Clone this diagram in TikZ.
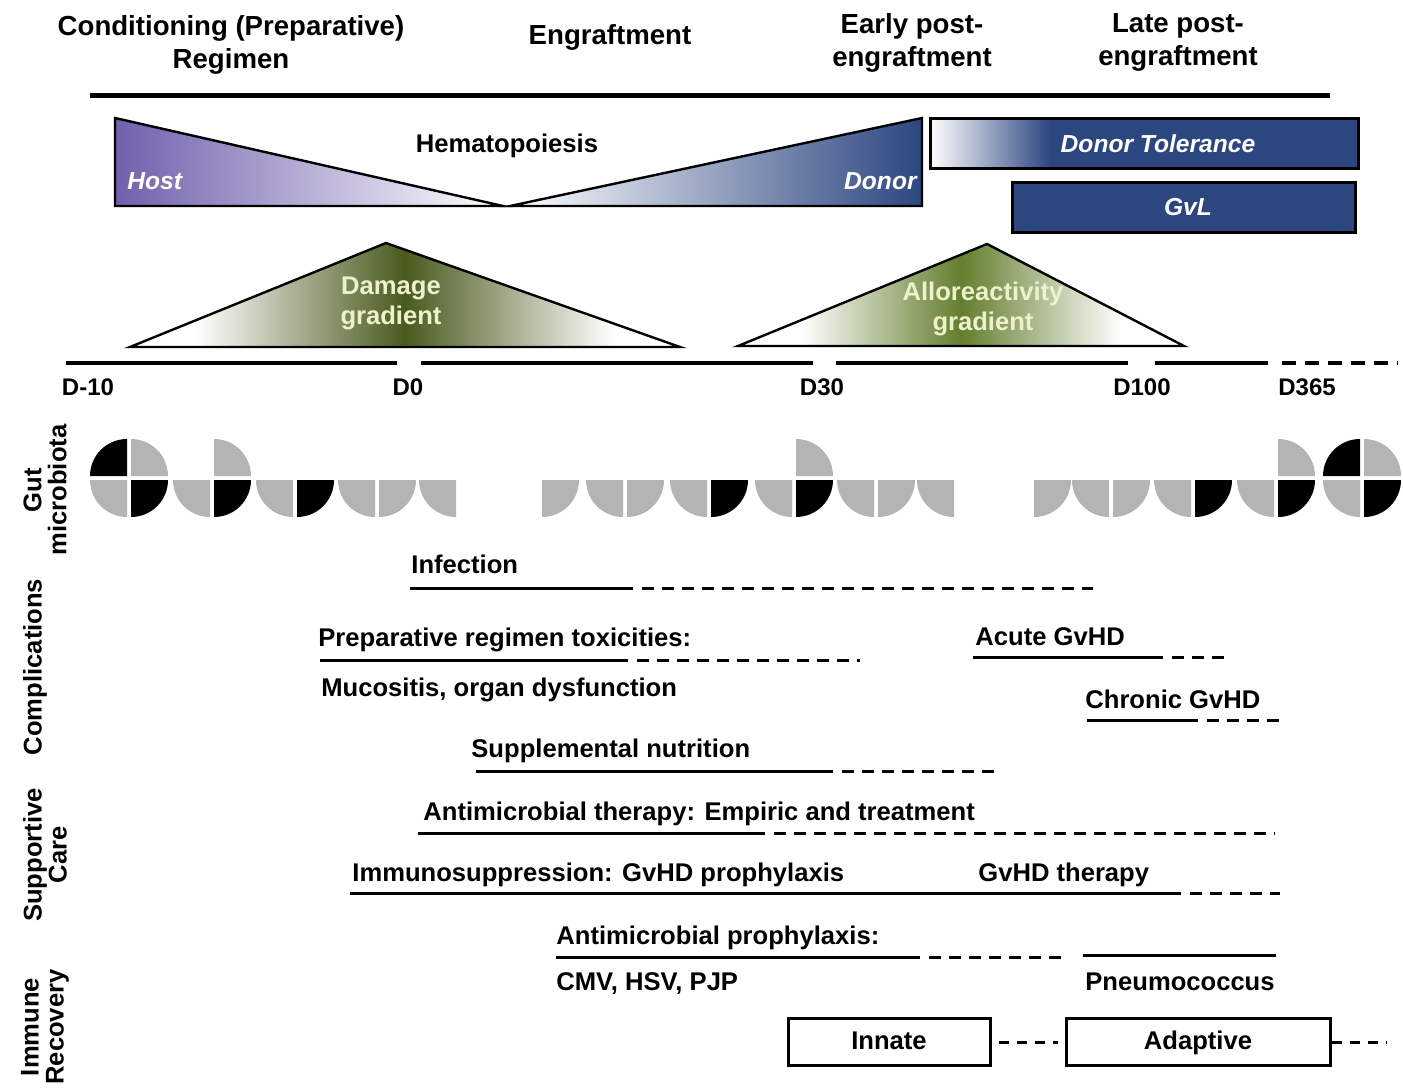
\documentclass[tikz,border=0pt]{standalone}
\usepackage{fontspec}
\setmainfont{Liberation Sans}
\usepackage{tikz}
\usetikzlibrary{positioning}
\definecolor{hostpurple}{RGB}{112,96,172}
\definecolor{donorblue}{RGB}{44,70,128}
\definecolor{damagegreen}{RGB}{74,90,30}
\definecolor{allogreen}{RGB}{100,126,46}
\definecolor{microgray}{RGB}{180,180,180}
\definecolor{gradtext}{RGB}{238,242,204}
\pgfdeclarehorizontalshading{damageshade}{100bp}{color(0bp)=(white); color(31bp)=(white);
  color(50bp)=(damagegreen); color(69bp)=(white); color(100bp)=(white)}
\pgfdeclarehorizontalshading{alloshade}{100bp}{color(0bp)=(white); color(32bp)=(white);
  color(50bp)=(allogreen); color(68bp)=(white); color(100bp)=(white)}
\tikzstyle{phase} = [font=\bfseries\fontsize{13.8}{16.5}\selectfont, align=center]
\tikzstyle{inbox} = [rectangle, draw, line width=1.5pt, minimum width=101pt,
                 minimum height=23.5pt, text height=9.5pt, text depth=2.5pt,
                 font=\bfseries\fontsize{12.8}{15}\selectfont]
\tikzset{
	item/.style={anchor=base west, inner xsep=0pt, font=\bfseries\fontsize{12.8}{15}\selectfont},
	sidelabel/.style={rotate=90, align=center, font=\bfseries\fontsize{12.8}{12.5}\selectfont},
	daylabel/.style={font=\bfseries\fontsize{12}{14}\selectfont},
	celltext/.style={text=white, inner xsep=0pt, font=\bfseries\itshape\fontsize{12.3}{15}\selectfont},
	gradtxt/.style={text=gradtext, align=center, font=\bfseries\fontsize{12.8}{15}\selectfont},
	bar/.style={line width=1.5pt},
	dashbar/.style={line width=1.5pt, dash pattern=on 6pt off 4pt},
}

\begin{document}
\begin{tikzpicture}[x=0.5pt, y=-0.5pt]
\useasboundingbox (0,0) rectangle (1403,1088);

\node [phase] at (231,45) (conditioning) {Conditioning (Preparative)\\Regimen};
\node [phase] at (610,37) (engraftment) {Engraftment};
\node [phase] at (912,43) (earlypost) {Early post-\\engraftment};
\node [phase] at (1178,42) (latepost) {Late post-\\engraftment};
\draw [line width=2.5pt] (90,95) -- (1330,95);

% hematopoiesis
\shade [left color=hostpurple, right color=white] (115,118) -- (503,206) -- (115,206) -- cycle;
\draw [line width=1.2pt] (115,118) -- (503,206) -- (115,206) -- cycle;
\shade [left color=white, right color=donorblue] (510,206) -- (922,118) -- (922,206) -- cycle;
\draw [line width=1.2pt] (510,206) -- (922,118) -- (922,206) -- cycle;
\node [celltext, anchor=base west] at (127,189) (host) {Host};
\node [celltext, anchor=base east] at (917,189) (donor) {Donor};
\node [font=\bfseries\fontsize{12.8}{15}\selectfont] at (507,146) (hemato) {Hematopoiesis};

\fill [donorblue] (930,118) rectangle (1358,168);
\shade [left color=white, right color=donorblue] (930,118) rectangle (1050,168);
\draw [line width=1.5pt] (930,118) rectangle (1358,168);
\node [celltext] at (1158,144) (tolerance) {Donor Tolerance};
\draw [line width=1.5pt, fill=donorblue] (1012,182) rectangle (1355,232);
\node [celltext] at (1188,207) (gvl) {GvL};

% gradients
\shade [shading=damageshade] (130,347) -- (386,243) -- (680,347) -- cycle;
\draw [line width=1.2pt] (130,347) -- (386,243) -- (680,347) -- cycle;
\node [gradtxt] at (391,303) (damage) {Damage\\gradient};
\shade [shading=alloshade] (738,346) -- (987,244) -- (1184,346) -- cycle;
\draw [line width=1.2pt] (738,346) -- (987,244) -- (1184,346) -- cycle;
\node [gradtxt] at (983,309) (allo) {Alloreactivity\\gradient};

% days
\foreach \a/\b in {66/397, 421/813, 836/1128, 1155/1268}
	\draw [line width=2pt] (\a,363) -- (\b,363);
\draw [line width=2pt, dash pattern=on 7pt off 4.5pt] (1282,363) -- (1398,363);
\foreach \x/\day in {88/D-10, 408/D0, 822/D30, 1142/D100, 1307/D365}
	\node [daylabel] at (\x,387) (d\x) {\day};

% side labels
\node [sidelabel] at (45,490) (gut) {Gut\\microbiota};
\node [sidelabel] at (35,667) (compl) {Complications};
\node [sidelabel] at (45,855) (support) {Supportive\\Care};
\node [sidelabel] at (45,1027) (immune) {Immune\\Recovery};

% microbiota: top left/top right/bottom left/bottom right
\foreach \cx/\qa/\qb/\qc/\qd in {129/black/microgray/microgray/black,
	212/none/microgray/microgray/black, 295/none/none/microgray/black,
	377/none/none/microgray/microgray, 458/none/none/microgray/none,
	540/none/none/none/microgray, 625/none/none/microgray/microgray,
	709/none/none/microgray/black, 794/none/microgray/microgray/black,
	876/none/none/microgray/microgray, 956/none/none/microgray/none,
	1032/none/none/none/microgray, 1111/none/none/microgray/microgray,
	1193/none/none/microgray/black, 1276/none/microgray/microgray/black,
	1362/black/microgray/microgray/black}
{
	\path [fill=\qa] (\cx-2,476) -- ++(-37,0) arc (180:270:37) -- cycle;
	\path [fill=\qb] (\cx+2,476) -- ++(0,-37) arc (270:360:37) -- cycle;
	\path [fill=\qc] (\cx-2,480) -- ++(-37,0) arc (180:90:37) -- cycle;
	\path [fill=\qd] (\cx+2,480) -- ++(37,0) arc (0:90:37) -- cycle;
}

% complications and supportive care
\node [item] at (411,573) (infection) {Infection};
\node [item] at (318,646) (toxic) {Preparative regimen toxicities:};
\node [item] at (321,696) (mucositis) {Mucositis, organ dysfunction};
\node [item] at (975,645) (acute) {Acute GvHD};
\node [item] at (1085,708) (chronic) {Chronic GvHD};
\node [item] at (471,757) (nutrition) {Supplemental nutrition};
\node [item] at (423,820) (therapy) {Antimicrobial therapy: Empiric and treatment};
\node [item] at (352,881) (suppress) {Immunosuppression: GvHD prophylaxis};
\node [item] at (978,881) (gvhdther) {GvHD therapy};
\node [item] at (556,944) (prophyl) {Antimicrobial prophylaxis:};
\node [item] at (556,990) (cmv) {CMV, HSV, PJP};
\node [item] at (1085,990) (pneumo) {Pneumococcus};

\foreach \y/\a/\b/\c in {588/410/633/1093, 660/320/628/860, 657/973/1163/1228,
	720/1087/1198/1280, 771/476/833/1000, 833/418/765/1275, 893/350/1181/1280,
	957/556/920/1065}
{
	\draw [bar] (\a,\y) -- (\b,\y);
	\draw [dashbar] (\b+9,\y) -- (\c,\y);
}
\draw [bar] (1083,955) -- (1276,955);

% immune recovery
\node [inbox] at (889,1042) (innate) {Innate};
\node [inbox, minimum width=132pt] at (1198,1042) (adaptive) {Adaptive};
\coordinate (later) at (1386,1042);
\draw [dashbar, dash pattern=on 5pt off 4pt, shorten <=3.5pt, shorten >=3.5pt] (innate) -- (adaptive);
\draw [dashbar, dash pattern=on 5pt off 4pt] (adaptive) -- (later);

\end{tikzpicture}
\end{document}
